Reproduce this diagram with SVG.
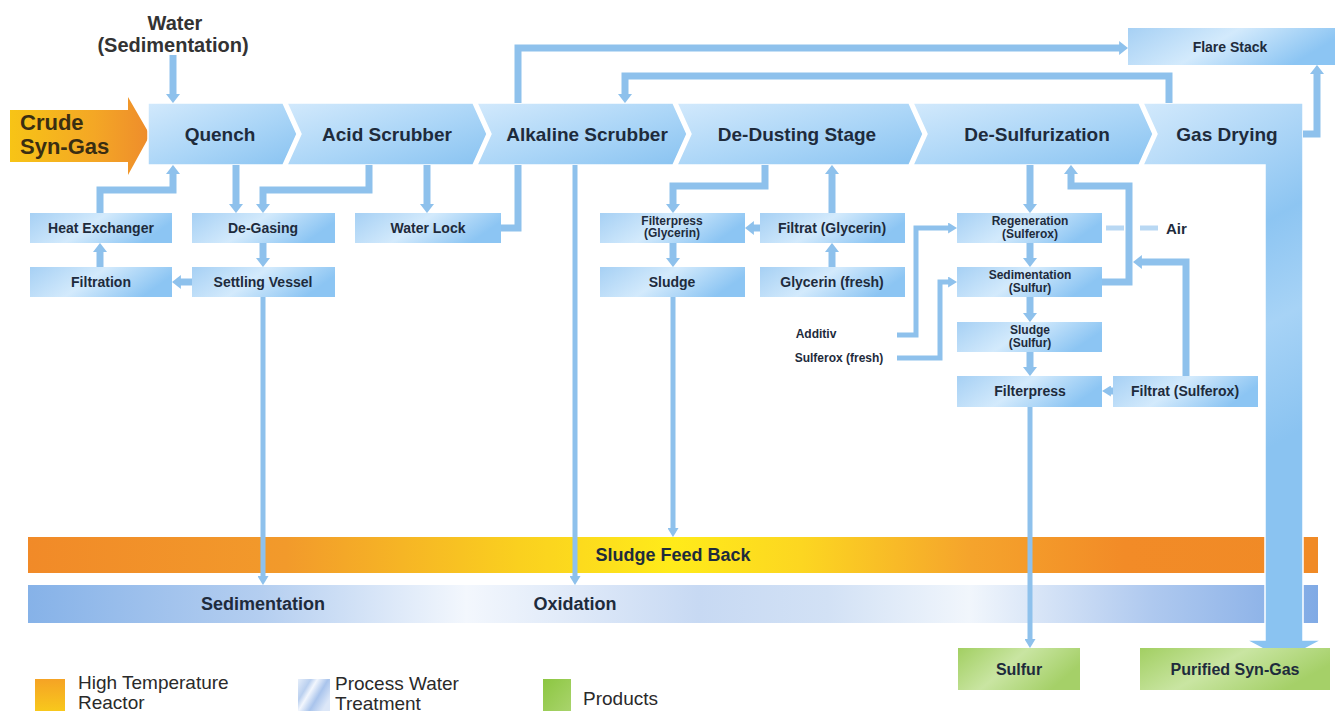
<svg xmlns="http://www.w3.org/2000/svg" width="1343" height="716" viewBox="0 0 1343 716">
<defs>
<style>
.t{font-family:"Liberation Sans",Arial,sans-serif;font-weight:bold;fill:#1E2B3C;text-anchor:middle}
.big{font-size:19px}
.sm{font-size:14px}
.xs{font-size:12px}
.band{font-size:18px}
.leg{font-family:"Liberation Sans",Arial,sans-serif;font-size:19px;fill:#2A2A2A}
.box{fill:url(#gBox)}
.chev{fill:url(#gChev);stroke:#fff;stroke-width:1.5}
.c{fill:none;stroke:#8EC1EC;stroke-width:7;stroke-linejoin:miter}
.th{stroke-width:5}
.a{marker-end:url(#ah)}
.ad{marker-end:url(#ahs)}
</style>
<marker id="ah" viewBox="0 0 10 10" preserveAspectRatio="none" refX="1" refY="5" markerUnits="userSpaceOnUse" markerWidth="9" markerHeight="14" orient="auto"><path d="M0,0 L10,5 L0,10 z" fill="#8EC1EC"/></marker>
<marker id="ahs" viewBox="0 0 10 10" preserveAspectRatio="none" refX="1" refY="5" markerUnits="userSpaceOnUse" markerWidth="9" markerHeight="11" orient="auto"><path d="M0,0 L10,5 L0,10 z" fill="#8EC1EC"/></marker>
<linearGradient id="gBox" x1="0" y1="0" x2="1" y2="0.3"><stop offset="0" stop-color="#A6D0F4"/><stop offset="0.5" stop-color="#D3EAFC"/><stop offset="1" stop-color="#8CC5F3"/></linearGradient>
<linearGradient id="gChev" x1="0" y1="0" x2="1" y2="1"><stop offset="0" stop-color="#D2E9FC"/><stop offset="0.55" stop-color="#AAD5F7"/><stop offset="1" stop-color="#89C3F1"/></linearGradient>
<linearGradient id="gGas" gradientUnits="userSpaceOnUse" x1="1143" y1="103" x2="1320" y2="420"><stop offset="0" stop-color="#D2E9FC"/><stop offset="0.45" stop-color="#8DC5F2"/><stop offset="0.7" stop-color="#A7D3F6"/><stop offset="1" stop-color="#8AC3F1"/></linearGradient>
<linearGradient id="gCrude" x1="0" y1="0" x2="1" y2="0"><stop offset="0" stop-color="#F7C416"/><stop offset="0.6" stop-color="#F4A725"/><stop offset="1" stop-color="#EE8C2C"/></linearGradient>
<linearGradient id="gOr" gradientUnits="userSpaceOnUse" x1="28" y1="0" x2="1318" y2="0"><stop offset="0" stop-color="#F18A28"/><stop offset="0.2" stop-color="#F29A2B"/><stop offset="0.38" stop-color="#FAD01F"/><stop offset="0.5" stop-color="#FFEB1A"/><stop offset="0.6" stop-color="#FCD621"/><stop offset="0.73" stop-color="#F5A42C"/><stop offset="0.85" stop-color="#F28B27"/><stop offset="1" stop-color="#F08A26"/></linearGradient>
<linearGradient id="gBl" gradientUnits="userSpaceOnUse" x1="28" y1="0" x2="1318" y2="0"><stop offset="0" stop-color="#86B2E8"/><stop offset="0.18" stop-color="#B4CEF0"/><stop offset="0.34" stop-color="#F3F7FD"/><stop offset="0.52" stop-color="#C7D9F3"/><stop offset="0.62" stop-color="#D2E1F5"/><stop offset="0.73" stop-color="#F1F6FC"/><stop offset="0.87" stop-color="#AFC9EF"/><stop offset="1" stop-color="#80AAE5"/></linearGradient>
<linearGradient id="gGr" x1="0" y1="0" x2="1" y2="0.4"><stop offset="0" stop-color="#A2CF62"/><stop offset="0.5" stop-color="#C9E5A2"/><stop offset="1" stop-color="#A5D068"/></linearGradient>
<linearGradient id="gLegO" x1="0" y1="0" x2="0" y2="1"><stop offset="0" stop-color="#F5A325"/><stop offset="1" stop-color="#F8C81C"/></linearGradient>
<linearGradient id="gLegB" x1="0" y1="0" x2="1" y2="0.6"><stop offset="0" stop-color="#E6EEFA"/><stop offset="0.3" stop-color="#B9CFEF"/><stop offset="0.45" stop-color="#F2F6FD"/><stop offset="0.7" stop-color="#A9C4EC"/><stop offset="1" stop-color="#DCE7F8"/></linearGradient>
<linearGradient id="gLegG" x1="0" y1="0" x2="1" y2="1"><stop offset="0" stop-color="#8CC641"/><stop offset="1" stop-color="#A9D46C"/></linearGradient>
</defs>
<rect width="1343" height="716" fill="#fff"/>

<!-- bands -->
<g id="sludge-feed-back">
<rect x="28" y="537" width="1290" height="36" fill="url(#gOr)"/>
<text class="t band" x="673" y="561">Sludge Feed Back</text>
</g>
<g id="process-water">
<rect x="28" y="585" width="1290" height="38" fill="url(#gBl)"/>
<text class="t band" x="263" y="610">Sedimentation</text>
<text class="t band" x="575" y="610">Oxidation</text>
</g>

<!-- main chevron band -->
<g id="crude">
<polygon points="10,110 128,110 128,97 150,135 128,175 128,162 10,162" fill="url(#gCrude)"/>
<text class="t" style="font-size:22px;text-anchor:start;fill:#3A2E12" x="20" y="130">Crude</text>
<text class="t" style="font-size:22px;text-anchor:start;fill:#3A2E12" x="20" y="154">Syn-Gas</text>
</g>
<g id="gas-drying">
<polygon points="1143,103 1303,103 1303,640 1322,640 1284,660 1246,640 1265,640 1265,165 1143,165 1157,134" fill="url(#gGas)" stroke="#fff" stroke-width="1.5"/>
<text class="t big" x="1227" y="141">Gas Drying</text>
</g>
<g id="quench">
<polygon class="chev" points="148,103 283,103 297,134 283,165 148,165"/>
<text class="t big" x="220" y="141">Quench</text>
</g>
<g id="acid-scrubber">
<polygon class="chev" points="287,103 473,103 487,134 473,165 287,165 301,134"/>
<text class="t big" x="387" y="141">Acid Scrubber</text>
</g>
<g id="alkaline-scrubber">
<polygon class="chev" points="477,103 673,103 687,134 673,165 477,165 491,134"/>
<text class="t big" x="587" y="141">Alkaline Scrubber</text>
</g>
<g id="de-dusting">
<polygon class="chev" points="677,103 909,103 923,134 909,165 677,165 691,134"/>
<text class="t big" x="797" y="141">De-Dusting Stage</text>
</g>
<g id="de-sulfurization">
<polygon class="chev" points="913,103 1139,103 1153,134 1139,165 913,165 927,134"/>
<text class="t big" x="1037" y="141">De-Sulfurization</text>
</g>

<!-- water label -->
<g id="water">
<text class="t" style="font-size:20px;fill:#333" x="175" y="30">Water</text>
<text class="t" style="font-size:20px;fill:#333" x="173" y="52">(Sedimentation)</text>
</g>

<!-- nodes -->
<g id="heat-exchanger"><rect class="box" x="30" y="213" width="142" height="30"/><text class="t sm" x="101" y="233">Heat Exchanger</text></g>
<g id="de-gasing"><rect class="box" x="192" y="213" width="143" height="30"/><text class="t sm" x="263" y="233">De-Gasing</text></g>
<g id="water-lock"><rect class="box" x="355" y="213" width="146" height="30"/><text class="t sm" x="428" y="233">Water Lock</text></g>
<g id="filtration"><rect class="box" x="30" y="267" width="142" height="30"/><text class="t sm" x="101" y="287">Filtration</text></g>
<g id="settling-vessel"><rect class="box" x="192" y="267" width="143" height="30"/><text class="t sm" x="263" y="287">Settling Vessel</text></g>
<g id="filterpress-glycerin"><rect class="box" x="600" y="213" width="145" height="30"/><text class="t xs" x="672" y="225">Filterpress</text><text class="t xs" x="672" y="237">(Glycerin)</text></g>
<g id="filtrat-glycerin"><rect class="box" x="760" y="213" width="145" height="30"/><text class="t sm" x="832" y="233">Filtrat (Glycerin)</text></g>
<g id="sludge"><rect class="box" x="600" y="267" width="145" height="30"/><text class="t sm" x="672" y="287">Sludge</text></g>
<g id="glycerin-fresh"><rect class="box" x="760" y="267" width="145" height="30"/><text class="t sm" x="832" y="287">Glycerin (fresh)</text></g>
<g id="regeneration"><rect class="box" x="957" y="213" width="145" height="30"/><text class="t xs" x="1030" y="225">Regeneration</text><text class="t xs" x="1030" y="238">(Sulferox)</text></g>
<g id="sedimentation-sulfur"><rect class="box" x="957" y="267" width="145" height="30"/><text class="t xs" x="1030" y="279">Sedimentation</text><text class="t xs" x="1030" y="292">(Sulfur)</text></g>
<g id="sludge-sulfur"><rect class="box" x="957" y="322" width="145" height="30"/><text class="t xs" x="1030" y="334">Sludge</text><text class="t xs" x="1030" y="347">(Sulfur)</text></g>
<g id="filterpress"><rect class="box" x="957" y="376" width="145" height="31"/><text class="t sm" x="1030" y="396">Filterpress</text></g>
<g id="filtrat-sulferox"><rect class="box" x="1113" y="376" width="145" height="31"/><text class="t sm" x="1185" y="396">Filtrat (Sulferox)</text></g>
<g id="flare-stack"><rect class="box" x="1128" y="28" width="207" height="37"/><text class="t sm" x="1230" y="52">Flare Stack</text></g>
<g id="sulfur"><rect x="958" y="648" width="122" height="42" fill="url(#gGr)"/><text class="t" style="font-size:16px" x="1019" y="675">Sulfur</text></g>
<g id="purified-syn-gas"><rect x="1140" y="648" width="190" height="42" fill="url(#gGr)"/><text class="t" style="font-size:16px" x="1235" y="675">Purified Syn-Gas</text></g>

<g id="labels">
<text class="t xs" x="816" y="338">Additiv</text>
<text class="t xs" x="839" y="362">Sulferox (fresh)</text>
<text class="t" style="font-size:15px;text-anchor:start" x="1166" y="234">Air</text>
</g>

<!-- connectors -->
<g id="connectors">
<path class="c a" d="M173,55 V95"/>
<path class="c a" d="M100,213 V190 H173 V173"/>
<path class="c a" d="M100,267 V251"/>
<path class="c a" d="M236,165 V205"/>
<path class="c a" d="M369,165 V190 H263 V205"/>
<path class="c a" d="M427,165 V205"/>
<path class="c" d="M501,228 H518 V165"/>
<path class="c a" d="M263,243 V259"/>
<path class="c a" d="M192,282 H180"/>
<path class="c th ad" d="M263,297 V577"/>
<path class="c th ad" d="M575,165 V577"/>
<path class="c a" d="M518,103 V48 H1120"/>
<path class="c a" d="M1169,103 V76 H625 V95"/>
<path class="c a" d="M1303,134 H1317 V73"/>
<path class="c a" d="M765,165 V186 H673 V205"/>
<path class="c a" d="M760,228 H753"/>
<path class="c a" d="M832,267 V251"/>
<path class="c a" d="M832,213 V173"/>
<path class="c a" d="M673,243 V259"/>
<path class="c th ad" d="M673,297 V529"/>
<path class="c a" d="M1030,165 V205"/>
<path class="c a" d="M1030,243 V259"/>
<path class="c a" d="M1030,297 V314"/>
<path class="c a" d="M1030,352 V368"/>
<path class="c th ad" d="M1030,407 V640"/>
<path class="c ad" d="M1113,391 H1110"/>
<path class="c a" d="M1186,376 V262 H1141"/>
<path class="c a" d="M1102,282 H1129 V186 H1071 V173"/>
<path class="c th" style="stroke:#B9D8F3;stroke-dasharray:18,16" d="M1158,228 H1104"/>
<path class="c th ad" d="M897,335 H916 V228 H949"/>
<path class="c th ad" d="M897,358 H940 V282 H949"/>
</g>

<!-- legend -->
<g id="legend">
<rect x="35" y="679" width="30" height="32" fill="url(#gLegO)"/>
<text class="leg" x="78" y="689">High Temperature</text>
<text class="leg" x="78" y="709">Reactor</text>
<rect x="298" y="679" width="32" height="32" fill="url(#gLegB)"/>
<text class="leg" x="335" y="690">Process Water</text>
<text class="leg" x="335" y="710">Treatment</text>
<rect x="543" y="679" width="28" height="32" fill="url(#gLegG)"/>
<text class="leg" x="583" y="705">Products</text>
</g>
</svg>
